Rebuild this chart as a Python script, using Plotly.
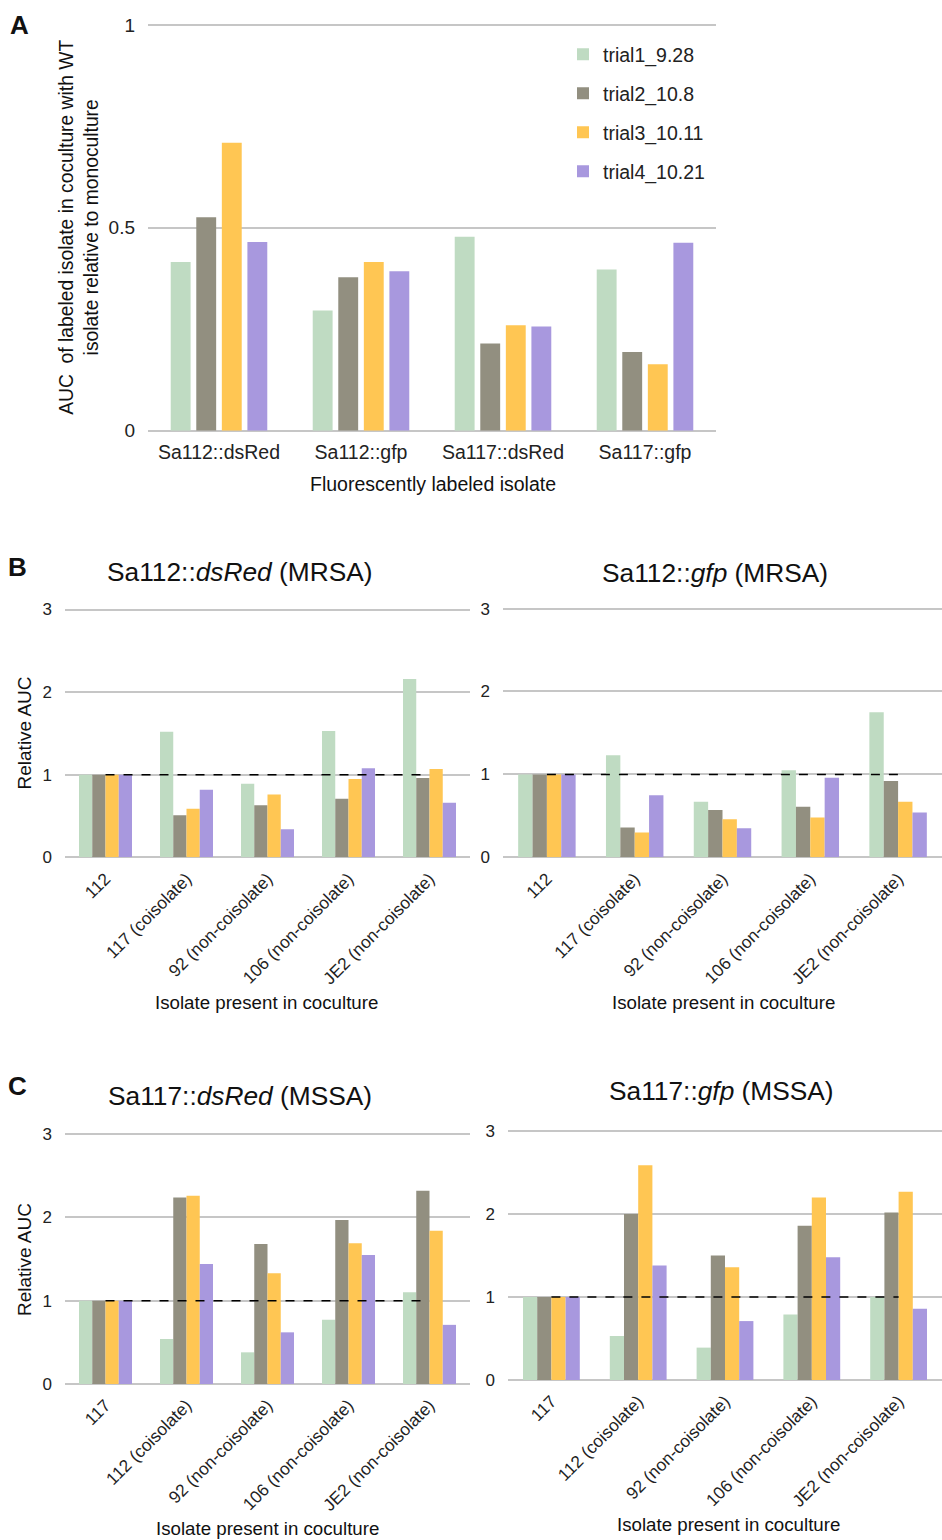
import plotly.graph_objects as go

W, H = 942, 1540

trials = ["trial1_9.28", "trial2_10.8", "trial3_10.11", "trial4_10.21"]
colors = ["#BFDBC2", "#928F80", "#FFC653", "#A898DE"]

# Panel A
a_categories = ["Sa112::dsRed", "Sa112::gfp", "Sa117::dsRed", "Sa117::gfp"]
a_t1 = [0.416, 0.296, 0.478, 0.397]
a_t2 = [0.526, 0.378, 0.215, 0.194]
a_t3 = [0.710, 0.416, 0.260, 0.164]
a_t4 = [0.465, 0.393, 0.257, 0.463]

# Panel B
b_categories = ["112", "117 (coisolate)", "92 (non-coisolate)", "106 (non-coisolate)", "JE2 (non-coisolate)"]
bl_t1 = [1.0, 1.52, 0.89, 1.53, 2.16]
bl_t2 = [1.0, 0.51, 0.63, 0.71, 0.96]
bl_t3 = [1.0, 0.59, 0.76, 0.95, 1.07]
bl_t4 = [1.0, 0.82, 0.34, 1.08, 0.66]

br_t1 = [1.0, 1.23, 0.67, 1.05, 1.75]
br_t2 = [1.0, 0.36, 0.57, 0.61, 0.92]
br_t3 = [1.0, 0.30, 0.46, 0.48, 0.67]
br_t4 = [1.0, 0.75, 0.35, 0.96, 0.54]

# Panel C
c_categories = ["117", "112 (coisolate)", "92 (non-coisolate)", "106 (non-coisolate)", "JE2 (non-coisolate)"]
cl_t1 = [1.0, 0.54, 0.38, 0.77, 1.10]
cl_t2 = [1.0, 2.24, 1.68, 1.97, 2.32]
cl_t3 = [1.0, 2.26, 1.33, 1.69, 1.84]
cl_t4 = [1.0, 1.44, 0.62, 1.55, 0.71]

cr_t1 = [1.0, 0.53, 0.39, 0.79, 1.00]
cr_t2 = [1.0, 2.00, 1.50, 1.86, 2.02]
cr_t3 = [1.0, 2.59, 1.36, 2.20, 2.27]
cr_t4 = [1.0, 1.38, 0.71, 1.48, 0.86]

ref_value = 1.0

FONT = "Liberation Sans, Arial, sans-serif"
GRID = "#C6C6C6"

# the rendered page maps figure px y -> screen y approximately as  y*SC + OFF
SC, OFF = 0.9897, 5.0


def px_x(p):
    return p / W


def fig_y(screen_y):
    return (screen_y - OFF) / SC


def px_y(screen_y):
    return 1 - fig_y(screen_y) / H


fig = go.Figure()

# (axis suffix, categories, series, x px domain, (screen px of top value, screen px of zero), top value)
panels = [
    ("", a_categories, [a_t1, a_t2, a_t3, a_t4], (148, 716), (24, 430), 1.0),
    ("2", b_categories, [bl_t1, bl_t2, bl_t3, bl_t4], (65, 470), (609, 857), 3.0),
    ("3", b_categories, [br_t1, br_t2, br_t3, br_t4], (503, 942), (608, 857), 3.0),
    ("4", c_categories, [cl_t1, cl_t2, cl_t3, cl_t4], (65, 470), (1134, 1384), 3.0),
    ("5", c_categories, [cr_t1, cr_t2, cr_t3, cr_t4], (508, 942), (1131, 1380), 3.0),
]

layout_axes = {}
for idx, (suf, cats, series, xd, yd, top) in enumerate(panels):
    xa = "x" + suf
    ya = "y" + suf
    if idx == 0:
        pitch, bw = 0.18, 0.14
    else:
        pitch, bw = 0.1636, 0.1636
    total = 3 * pitch + bw
    for i, vals in enumerate(series):
        fig.add_trace(go.Bar(
            x=cats, y=vals, name=trials[i],
            marker=dict(color=colors[i], line=dict(width=0)),
            offset=-total / 2 + i * pitch, width=bw,
            xaxis=xa, yaxis=ya,
            showlegend=(idx == 0), legendgroup="g%d" % i,
        ))
    if idx > 0:
        fig.add_trace(go.Scatter(
            x=[cats[0], cats[-1]], y=[ref_value, ref_value], mode="lines",
            line=dict(color="black", width=1.5, dash="dash"),
            xaxis=xa, yaxis=ya, showlegend=False, hoverinfo="skip",
        ))
    # extend range slightly so the top gridline is drawn
    ext = 1.012
    zero_f = fig_y(yd[1])
    top_f = fig_y(yd[0])
    top_ext_f = zero_f - (zero_f - top_f) * ext
    ydom = [1 - zero_f / H, 1 - top_ext_f / H]
    xkey = "xaxis" + suf
    ykey = "yaxis" + suf
    if idx == 0:
        layout_axes[xkey] = dict(
            domain=[px_x(xd[0]), px_x(xd[1])], anchor=ya,
            type="category", range=[-0.5, len(cats) - 0.5],
            showgrid=False, showline=False, zeroline=False, ticks="",
            tickfont=dict(family=FONT, size=19.5, color="#222"),
            ticklabelstandoff=8,
        )
        layout_axes[ykey] = dict(
            domain=ydom, anchor=xa,
            range=[0, top * ext], tickvals=[0, 0.5, 1], ticktext=["0", "0.5", "1"],
            showgrid=True, gridcolor=GRID, gridwidth=2,
            zeroline=True, zerolinecolor=GRID, zerolinewidth=2,
            showline=False, ticks="",
            tickfont=dict(family=FONT, size=19, color="#222"),
            ticklabelstandoff=12,
        )
    else:
        layout_axes[xkey] = dict(
            domain=[px_x(xd[0]), px_x(xd[1])], anchor=ya,
            type="category", range=[-0.5, len(cats) - 0.5],
            showgrid=False, showline=False, zeroline=False, ticks="",
            tickangle=-45,
            tickfont=dict(family=FONT, size=17.3, color="#222"),
            ticklabelstandoff=7,
        )
        layout_axes[ykey] = dict(
            domain=ydom, anchor=xa,
            range=[0, top * ext], tickvals=[0, 1, 2, 3],
            showgrid=True, gridcolor=GRID, gridwidth=2,
            zeroline=True, zerolinecolor=GRID, zerolinewidth=2,
            showline=False, ticks="",
            tickfont=dict(family=FONT, size=17, color="#222"),
            ticklabelstandoff=12,
        )

annotations = []


def ann(text, x, y, size, angle=0, bold=False, xanchor="center"):
    annotations.append(dict(
        text=("<b>%s</b>" % text) if bold else text,
        x=px_x(x), y=px_y(y), xref="paper", yref="paper",
        xanchor=xanchor, yanchor="middle", showarrow=False, textangle=angle,
        font=dict(family=FONT, size=size, color="#111"),
    ))


# panel letters
ann("A", 19, 24, 26, bold=True)
ann("B", 17, 566, 26, bold=True)
ann("C", 17, 1086, 26, bold=True)

# Panel A axis titles
ann("AUC  of labeled isolate in coculture with WT<br>isolate relative to monoculture", 79, 227, 19.3, angle=-90)
ann("Fluorescently labeled isolate", 433, 483, 19.5)

# Panel titles
ann("Sa112::<i>dsRed</i> (MRSA)", 240, 571, 26.3)
ann("Sa112::<i>gfp</i> (MRSA)", 715, 572, 26.3)
ann("Sa117::<i>dsRed</i> (MSSA)", 240, 1096, 26.3)
ann("Sa117::<i>gfp</i> (MSSA)", 721, 1091, 26.3)

# y-axis titles B/C
ann("Relative AUC", 24, 733, 19, angle=-90)
ann("Relative AUC", 24, 1260, 19, angle=-90)

# x-axis titles B/C
ann("Isolate present in coculture", 266, 1002, 18.7)
ann("Isolate present in coculture", 723, 1002, 18.7)
ann("Isolate present in coculture", 267, 1529, 18.7)
ann("Isolate present in coculture", 728, 1525, 18.7)

fig.update_layout(
    width=W, height=H,
    margin=dict(l=0, r=0, t=0, b=0),
    paper_bgcolor="white", plot_bgcolor="white",
    barmode="overlay",
    font=dict(family=FONT, color="#222"),
    showlegend=True,
    legend=dict(
        x=px_x(563), y=1 - 29.5 / H, xanchor="left", yanchor="top",
        font=dict(family=FONT, size=19.5, color="#222"),
        tracegroupgap=10.6, bgcolor="rgba(0,0,0,0)",
        itemwidth=30,
    ),
    annotations=annotations,
    **layout_axes,
)

fig.write_html("out.html")
